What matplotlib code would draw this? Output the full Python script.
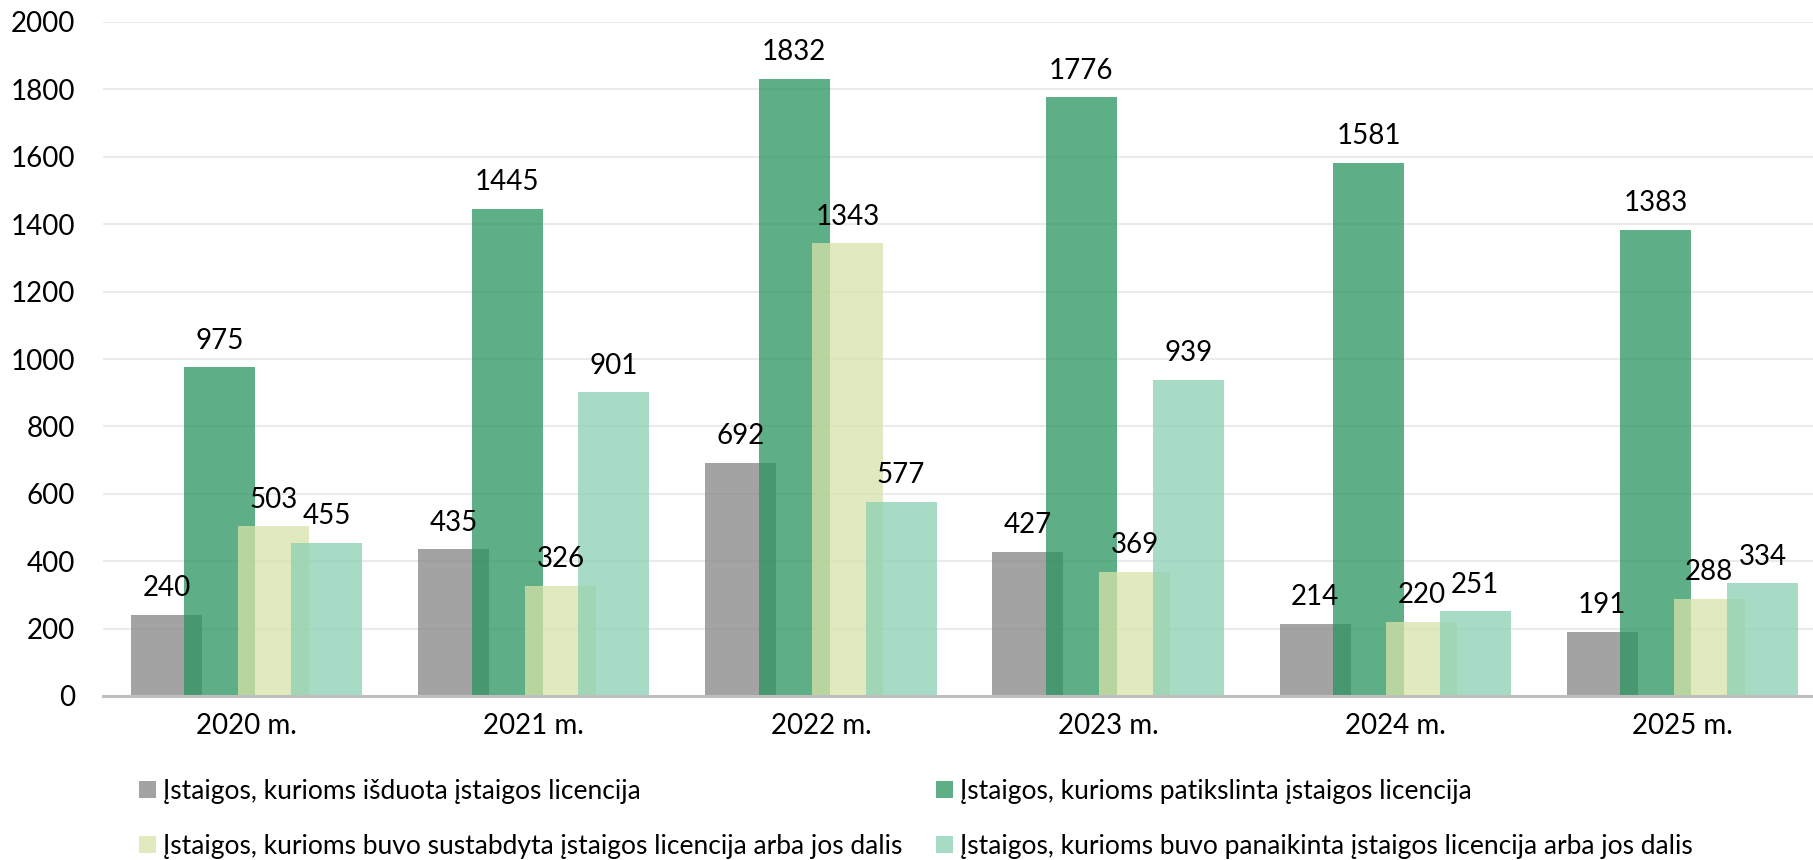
import matplotlib
matplotlib.use("Agg")
import matplotlib.pyplot as plt
import numpy as np

plt.rcParams['font.family'] = ['Lato', 'DejaVu Sans']

years = ["2020 m.", "2021 m.", "2022 m.", "2023 m.", "2024 m.", "2025 m."]
issued = [240, 435, 692, 427, 214, 191]
refined = [975, 1445, 1832, 1776, 1581, 1383]
suspended = [503, 326, 1343, 369, 220, 288]
revoked = [455, 901, 577, 939, 251, 334]

names = ["Įstaigos, kurioms išduota įstaigos licencija",
         "Įstaigos, kurioms patikslinta įstaigos licencija",
         "Įstaigos, kurioms buvo sustabdyta įstaigos licencija arba jos dalis",
         "Įstaigos, kurioms buvo panaikinta įstaigos licencija arba jos dalis"]
colors = ["#858585", "#28935F", "#D7E3A8", "#8AD0B2"]
ALPHA = 0.75

W, H = 1813, 860
fig = plt.figure(figsize=(W / 100, H / 100), dpi=100)
ax = fig.add_axes([103 / W, 1 - 696 / H, 1723 / W, 674 / H])

x = np.arange(len(years))
step, bw = 0.186, 0.247
series = [issued, refined, suspended, revoked]
handles = []
for i, (vals, c, n) in enumerate(zip(series, colors, names)):
    bars = ax.bar(x + (i - 1.5) * step, vals, bw, color=c, alpha=ALPHA,
                  label=n, zorder=2, linewidth=0)
    handles.append(bars)
    for b, v in zip(bars, vals):
        ax.annotate(str(v), (b.get_x() + b.get_width() / 2, v),
                    xytext=(0, 13.5), textcoords="offset points",
                    ha="center", va="baseline", fontsize=20, color="#000000")

ax.set_xlim(-0.5, len(years) - 0.5)
ax.set_ylim(0, 2000)
ax.set_yticks(range(0, 2001, 200))
ax.set_xticks(x)
ax.set_xticklabels(years)
ax.tick_params(axis="both", length=0, labelsize=20, colors="#000000")
ax.tick_params(axis="y", pad=20)
ax.tick_params(axis="x", pad=12)
ax.yaxis.grid(True, color="#EBEBEB", linewidth=1.5, zorder=0)
ax.set_axisbelow(True)
for s in ["top", "right", "left"]:
    ax.spines[s].set_visible(False)
ax.spines["bottom"].set_color("#BFBFBF")
ax.spines["bottom"].set_linewidth(2.2)
ax.spines["bottom"].set_zorder(3)

# legend: two columns placed separately
leg_kw = dict(frameon=False, fontsize=19, handlelength=0.64, handleheight=0.64,
              handletextpad=0.26, labelspacing=1.12, borderaxespad=0, borderpad=0,
              loc="upper left")
leg1 = fig.legend([handles[0], handles[2]], [names[0], names[2]],
                  bbox_to_anchor=(139 / W, 1 - 779 / H), **leg_kw)
leg2 = fig.legend([handles[1], handles[3]], [names[1], names[3]],
                  bbox_to_anchor=(936 / W, 1 - 779 / H), **leg_kw)

fig.savefig("out.png", dpi=100)
